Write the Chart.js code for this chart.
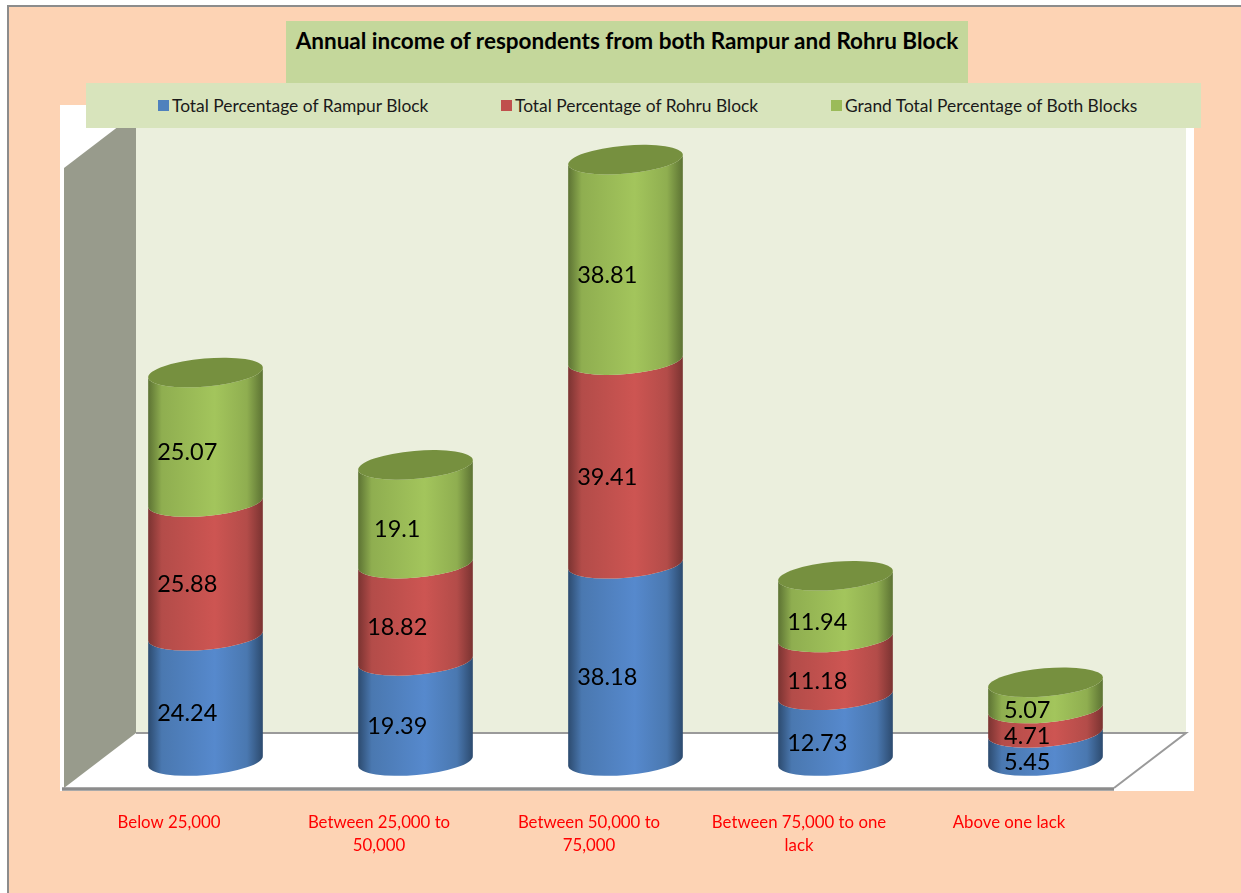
<!DOCTYPE html>
<html>
<head>
<meta charset="utf-8">
<title>Annual income of respondents</title>
<script src="https://cdn.jsdelivr.net/npm/chart.js@4"></script>
<style>
  html, body { margin: 0; padding: 0; background: #fff; overflow: hidden; }
  body { width: 1241px; height: 893px; position: relative; font-family: Lato, sans-serif; }
  #frame { position: absolute; left: 7px; top: 5px; right: 0; bottom: 0; background: #fdd3b4;
           border-left: 2px solid #8c8c8c; border-top: 2px solid #8c8c8c; }
  #chart { position: absolute; left: 0; top: 0; }
  #title { position: absolute; left: 286px; top: 21px; width: 682px; height: 62px; background: #c4d79b;
           font-weight: bold; font-size: 22.5px; color: #000; text-align: center; line-height: 40px; }
  #legend { position: absolute; left: 86px; top: 83px; width: 1115px; height: 45px; background: #d8e4bc; }
  .item { position: absolute; top: 0; line-height: 45px; font-size: 17.4px; color: #1a1a1a; white-space: nowrap; }
  .item i { position: absolute; left: -14px; top: 17px; width: 11px; height: 11px; }
</style>
</head>
<body>
<div id="frame"></div>
<canvas id="chart" width="1241" height="893"></canvas>
<div id="title">Annual income of respondents from both Rampur and Rohru Block</div>
<div id="legend"></div>
<script>
const titleText = "Annual income of respondents from both Rampur and Rohru Block";
const categories = [
  "Below 25,000",
  ["Between 25,000 to", "50,000"],
  ["Between 50,000 to", "75,000"],
  ["Between 75,000 to one", "lack"],
  "Above one lack",
];
const rampur = [24.24, 19.39, 38.18, 12.73, 5.45];
const rohru = [25.88, 18.82, 39.41, 11.18, 4.71];
const grandTotal = [25.07, 19.1, 38.81, 11.94, 5.07];
const seriesNames = [
  "Total Percentage of Rampur Block",
  "Total Percentage of Rohru Block",
  "Grand Total Percentage of Both Blocks",
];

const swatchColors = ["#4f81bd", "#c0504d", "#9bbb59"];
const edgeColors = ["#2c4a6e", "#7a3331", "#5c7233"];
const midColors = ["#4a78b0", "#b34c49", "#8fae50"];
const lightColors = ["#5689cd", "#cd5552", "#a3c55c"];
const capColor = "#76903f";
const legendLefts = [86, 429, 759]; // text start, relative to legend box

// depth of the fake 3d box, bars stand about half way in
const depthX = 72;
const depthY = 55;
const barShiftX = 36.5;
const barShiftY = 27;

const legendBox = document.getElementById("legend");
seriesNames.forEach((name, i) => {
  const item = document.createElement("div");
  item.className = "item";
  item.style.left = legendLefts[i] + "px";
  item.textContent = name;
  const swatch = document.createElement("i");
  swatch.style.background = swatchColors[i];
  item.appendChild(swatch);
  legendBox.appendChild(item);
});

const boxPlugin = {
  id: "box3d",
  beforeDatasetsDraw(chart) {
    const { ctx, chartArea: a } = chart;
    ctx.save();
    // white plot panel
    ctx.fillStyle = "#fff";
    ctx.fillRect(a.left - 4, 105, 1134, a.bottom + 3 - 105);
    // back wall
    ctx.fillStyle = "#ebefdd";
    ctx.fillRect(a.left + depthX, a.top - depthY, a.right - a.left, a.bottom - a.top);
    // side wall
    ctx.fillStyle = "#989b8c";
    ctx.beginPath();
    ctx.moveTo(a.left, a.top);
    ctx.lineTo(a.left + depthX, a.top - depthY);
    ctx.lineTo(a.left + depthX, a.bottom - depthY);
    ctx.lineTo(a.left, a.bottom);
    ctx.closePath();
    ctx.fill();
    // floor edges
    ctx.strokeStyle = "#9a9a9a";
    ctx.lineWidth = 2;
    ctx.beginPath();
    ctx.moveTo(a.left + depthX, a.bottom - depthY);
    ctx.lineTo(a.right + depthX, a.bottom - depthY);
    ctx.lineTo(a.right, a.bottom);
    ctx.stroke();
    ctx.strokeStyle = "#8c8c8c";
    ctx.lineWidth = 3.5;
    ctx.beginPath();
    ctx.moveTo(a.left - 2, a.bottom + 1);
    ctx.lineTo(a.right, a.bottom + 1);
    ctx.stroke();
    ctx.restore();
  },
};

const tilt = -5 * Math.PI / 180;
const ellipseRy = 14;

const cylinderPlugin = {
  id: "cylinders",
  afterDatasetsDraw(chart) {
    const ctx = chart.ctx;
    ctx.save();
    chart.data.datasets.forEach((ds, d) => {
      chart.getDatasetMeta(d).data.forEach((bar, i) => {
        const cx = bar.x + barShiftX;
        const top = bar.y - barShiftY;
        const base = bar.base - barShiftY;
        const rx = bar.width / 2;

        const grad = ctx.createLinearGradient(cx - rx, 0, cx + rx, 0);
        grad.addColorStop(0, edgeColors[d]);
        grad.addColorStop(0.12, midColors[d]);
        grad.addColorStop(0.58, lightColors[d]);
        grad.addColorStop(0.86, midColors[d]);
        grad.addColorStop(1, edgeColors[d]);
        ctx.fillStyle = grad;
        ctx.beginPath();
        ctx.ellipse(cx, base, rx, ellipseRy, tilt, Math.PI, 0, true);
        ctx.ellipse(cx, top, rx, ellipseRy, tilt, 0, Math.PI, false);
        ctx.closePath();
        ctx.fill();

        if (d === chart.data.datasets.length - 1) {
          ctx.fillStyle = capColor;
          ctx.beginPath();
          ctx.ellipse(cx, top, rx, ellipseRy, tilt, 0, Math.PI * 2);
          ctx.fill();
        }
      });
    });
    // value labels sit low and left of the bar middle
    ctx.fillStyle = "#000";
    ctx.font = "23.5px Lato";
    ctx.textAlign = "center";
    ctx.textBaseline = "middle";
    chart.data.datasets.forEach((ds, d) => {
      chart.getDatasetMeta(d).data.forEach((bar, i) => {
        const mid = (bar.y + bar.base) / 2 - barShiftY + 15.5;
        ctx.fillText(String(ds.data[i]), bar.x + barShiftX / 2, mid);
      });
    });
    ctx.restore();
  },
};

new Chart(document.getElementById("chart"), {
  type: "bar",
  data: {
    labels: categories,
    datasets: [
      { label: seriesNames[0], data: rampur, backgroundColor: "transparent" },
      { label: seriesNames[1], data: rohru, backgroundColor: "transparent" },
      { label: seriesNames[2], data: grandTotal, backgroundColor: "transparent" },
    ],
  },
  options: {
    responsive: false,
    animation: false,
    barPercentage: 0.548,
    categoryPercentage: 1,
    layout: { padding: { left: 64, right: 127, top: 168, bottom: 35 } },
    plugins: {
      legend: { display: false },
      title: { display: false, text: titleText },
      tooltip: { enabled: false },
    },
    scales: {
      x: {
        stacked: true,
        grid: { display: false },
        border: { display: false },
        afterFit(scale) { scale.height = 70; },
        ticks: {
          color: "#ff0000",
          maxRotation: 0,
          autoSkip: false,
          padding: 15,
          font: { family: "Lato", size: 16.8, lineHeight: 1.37 },
        },
      },
      y: {
        stacked: true,
        display: false,
        min: 0,
        max: 120,
      },
    },
  },
  plugins: [boxPlugin, cylinderPlugin],
});
</script>
</body>
</html>
